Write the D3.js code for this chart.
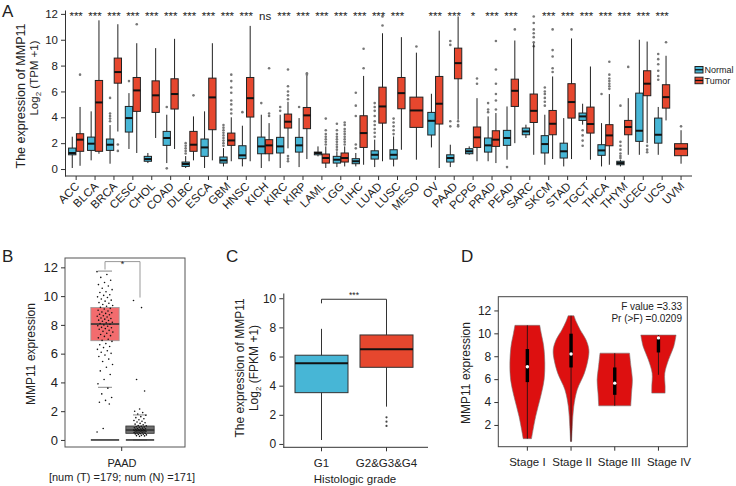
<!DOCTYPE html>
<html><head><meta charset="utf-8">
<script src="https://cdn.jsdelivr.net/npm/d3@7"></script>
<style>
body{margin:0;background:#fff}
svg{display:block}
text{font-family:"Liberation Sans",Arial,Helvetica,sans-serif;fill:#222}
</style>
</head><body>
<svg id="c" width="736" height="486"></svg>
<script>
// ---------------- DATA ----------------
// Panel A
const categories = ["ACC","BLCA","BRCA","CESC","CHOL","COAD","DLBC","ESCA","GBM","HNSC","KICH","KIRC","KIRP","LAML","LGG","LIHC","LUAD","LUSC","MESO","OV","PAAD","PCPG","PRAD","PEAD","SARC","SKCM","STAD","TGCT","THCA","THYM","UCEC","UCS","UVM"];
// [lower whisker, Q1, median, Q3, upper whisker]
const normalBox = [
 [0.08,1.1,1.24,1.62,2.5],[0.67,1.44,1.96,2.47,4.46],[0.41,1.44,1.88,2.32,3.4],[1.55,2.86,3.94,4.84,5.87],
 [0.46,0.6,0.77,0.98,1.24],[0.46,1.83,2.4,2.91,4.2],[0.08,0.2,0.39,0.54,1.0],[0.08,0.98,1.67,2.32,4.46],
 [0.2,0.46,0.67,0.93,1.62],[0.2,0.8,1.06,1.8,3.35],[0.08,1.18,1.75,2.47,4.2],[0.08,1.24,1.75,2.45,4.2],
 [0.15,1.31,1.83,2.45,3.94],[0.98,1.1,1.24,1.31,1.75],[0.15,0.46,0.72,0.98,1.37],[0.2,0.41,0.6,0.8,1.24],
 [0.15,0.77,1.1,1.41,2.27],[0.2,0.77,1.1,1.49,2.52],null,[1.67,2.63,3.73,4.38,5.82],
 [0.15,0.54,0.85,1.1,1.88],[1.1,1.18,1.37,1.57,1.75],[0.6,1.31,1.83,2.4,4.07],[0.72,1.83,2.4,2.99,4.84],
 [2.4,2.65,2.91,3.17,3.43],[0.33,1.24,1.93,2.58,4.2],[0.2,0.85,1.37,2.0,3.94],[3.43,3.76,4.07,4.33,5.05],
 [0.2,1.06,1.44,1.88,3.55],[0.2,0.33,0.46,0.6,0.72],[1.1,2.14,2.96,5.87,10.0],[1.1,2.0,2.65,3.94,4.8],null
];
const tumorBox = [
 [0.25,1.37,2.27,2.73,4.8],[1.18,1.37,5.15,6.85,11.5],[2.9,6.64,7.5,8.58,11.2],[1.24,4.46,6.08,7.08,9.73],
 [2.4,4.38,5.7,6.82,9.35],[1.55,4.64,5.8,6.98,10.07],[0.67,1.37,1.88,2.91,4.07],[0.67,3.04,5.54,7.03,9.73],
 [0.6,1.83,2.21,2.78,4.0],[0.6,4.02,5.48,7.08,11.07],[0.6,1.18,1.83,2.27,3.55],[1.6,3.17,3.66,4.25,5.2],
 [0.77,3.12,4.15,4.76,7.2],[0.08,0.46,0.85,1.16,1.75],[0.2,0.54,0.85,1.24,1.75],[0.33,1.67,2.78,4.12,7.2],
 [0.6,3.55,4.84,6.33,10.5],[1.49,4.66,5.87,7.08,10.2],[0.72,3.22,4.53,5.56,9.0],[0.08,3.48,5.05,7.16,10.7],
 [3.81,6.98,8.19,9.35,11.8],[0.6,1.67,2.45,3.25,5.48],[0.46,1.75,2.27,2.96,4.33],[2.0,4.84,6.05,6.95,9.94],
 [1.1,3.6,4.5,5.8,9.73],[0.77,2.65,3.5,4.53,7.16],[0.77,3.94,5.18,6.6,10.1],[0.72,2.78,3.48,4.79,7.93],
 [0.33,1.8,2.6,3.43,5.8],[1.1,2.65,3.25,3.76,5.48],[2.0,5.67,6.6,7.6,9.86],[3.76,4.71,5.56,6.52,8.76],[0.41,1.03,1.57,1.96,3.0]
];
const normalOut = [
 [],[],[5.5,4.3,4.1,3.9,3.7],[6.8],[],[4.8,0.05],[1.2,1.4,1.6,1.8,2.0],[],
 [1.8,2.0,2.2,2.4,2.6,2.8,3.0,3.2,3.4],[4.4],[5.1],[4.5,4.8],[4.8],[],
 [1.5,1.7,1.9,2.1,2.3,2.5,2.7,3.0,3.5],[5.9,4.9,4.1,1.6,1.9],[2.5,2.8,3.1,3.4,3.7,4.1,4.5,4.8,5.1],
 [2.7,3.0,3.3,3.6,3.9],[],[],[9.9,9.6,3.7,3.3],[],[5.1,4.6,4.4],[0.15],[],
 [6.3,6.0,5.8,5.5,5.2,4.9],[],[3.0,2.6,2.2,1.8],[5.8],[4.9,2.1,1.8,1.5,1.2,1.0,0.85],[],
 [8.9,8.5,8.1,7.6,7.2,6.9],[]
];
const tumorOut = [
 [7.3],[],[1.9,1.4],[11.2],[],[],[5.7],[],[4.3,4.6,5.0,5.3,5.9,6.3,6.8,7.3],[],[4.1,4.3,7.8],
 [7.7,6.4,6.0,5.7,5.4,1.0,0.8,0.6],[7.4,7.3],[1.9,2.1,2.3,2.5,2.7,3.0,3.9],[1.9,2.1,2.3,2.5,2.7,2.9,3.1,3.4,3.6],
 [9.3,7.8],[11.8,11.1],[],[9.48],[],[3.7,3.4,3.3],[7.0,6.6],[9.9,7.7,6.6,5.8,5.3,4.6],[10.8],
 [11.8,11.3,10.8,10.5,10.2,9.8,9.5],[10.8,9.2,8.7,7.8,7.5],[10.8],[],[8.3,7.3,7.0,6.8,6.6,6.4,6.2],[7.9],
 [1.8,1.5,1.3],[9.8],[3.3]
];
const sigLabels = ["***","***","***","***","***","***","***","***","***","***","ns","***","***","***","***","***","***","***","","***","***","*","***","***","","***","***","***","***","***","***","***",""];
const yTicksA = [0,2,4,6,8,10,12];
const legendA = ["Normal","Tumor"];

// Panel B (GEPIA PAAD)
const bGroups = ["Tumor","Normal"];
const bBox = [[3.66,6.9,8.06,9.21,11.74],[0,0.46,0.69,0.97,1.74]];
const bBaseline = [0,0];
const bTumorPts = [11.7,11.5,11.3,11.1,10.95,10.8,10.7,10.55,10.45,10.3,10.25,10.1,10.05,9.95,9.9,9.8,9.72,9.65,9.55,9.5,9.42,9.35,9.3,9.22,9.15,9.1,9.02,8.97,8.9,8.84,8.8,8.74,8.7,8.63,8.6,8.55,8.48,8.44,8.4,8.33,8.3,8.25,8.18,8.14,8.1,8.04,8.0,7.94,7.9,7.83,7.8,7.74,7.7,7.62,7.55,7.5,7.42,7.33,7.25,7.2,7.1,7.0,6.92,6.85,6.7,6.62,6.5,6.42,6.3,6.2,6.1,6.02,5.9,5.8,5.62,5.45,5.25,5.05,4.8,4.55,4.2,3.9,3.6,3.2,2.95,2.75,2.62,2.5,0.8,0.55];
const bNormalPts = [9.7,9.2,4.2,3.4,2.15,2.0,1.9,1.8,1.72,1.62,1.55,1.47,1.4,1.35,1.3,1.25,1.2,1.15,1.1,1.05,1.0,0.98,0.95,0.92,0.9,0.88,0.85,0.82,0.8,0.78,0.76,0.74,0.72,0.7,0.69,0.68,0.67,0.66,0.65,0.64,0.63,0.62,0.6,0.58,0.56,0.55,0.54,0.52,0.5,0.48,0.46,0.44,0.42,0.4,0.38,0.35,0.32,0.3,0.28,0.25];
const yTicksB = [0,2,4,6,8,10,12];

// Panel C
const cGroups = ["G1","G2&G3&G4"];
const cBox = [[0.27,3.52,5.54,6.09,7.9],[2.56,5.26,6.5,7.48,9.7]];
const cOut = [[],[1.83,1.53,1.24]];
const yTicksC = [0,2,4,6,8,10];

// Panel D
const dStages = ["Stage I","Stage II","Stage III","Stage IV"];
const dBox = [[0.8,5.74,7.08,8.63,10.7],[0.55,7.02,8.19,9.97,11.54],[3.67,4.63,5.65,7.02,8.27],[6.38,8.33,9.6,9.65,9.85]];
// [value, relative density]
const dDensity = [
 [[0.8,0.23],[2.73,0.46],[4.48,0.74],[5.94,0.93],[7.4,0.97],[8.85,0.91],[10.0,0.77],[10.7,0.69]],
 [[0.55,0.03],[1.86,0.07],[3.6,0.15],[5.07,0.34],[6.52,0.74],[7.69,0.94],[8.57,0.99],[9.44,0.83],[10.3,0.51],[11.04,0.28],[11.54,0.16]],
 [[3.67,0.89],[4.78,0.93],[5.94,0.98],[7.1,0.9],[8.27,0.82]],
 [[4.78,0.37],[5.35,0.37],[6.52,0.35],[7.69,0.56],[8.85,0.85],[9.85,0.98]]
];
const yTicksD = [2,4,6,8,10,12];
const dStats = ["F value =3.33","Pr (>F) =0.0209"];

// ---------------- DRAW ----------------
const svg = d3.select("#c");
const BLUE = "#47b6d6", RED = "#e6472e", INK = "#222";

function boxA(g, cx, w, s, fill){
  g.append("line").attr("x1",cx).attr("x2",cx).attr("y1",yA(s[0])).attr("y2",yA(s[4]))
    .attr("stroke",INK).attr("stroke-width",1);
  g.append("rect").attr("x",cx-w/2).attr("width",w).attr("y",yA(s[3])).attr("height",Math.max(1,yA(s[1])-yA(s[3])))
    .attr("fill",fill).attr("stroke",INK).attr("stroke-width",1);
  g.append("line").attr("x1",cx-w/2).attr("x2",cx+w/2).attr("y1",yA(s[2])).attr("y2",yA(s[2]))
    .attr("stroke","#111").attr("stroke-width",2);
}

// ===== Panel A =====
const xA = d3.scaleBand().domain(categories).range([66.7, 690.5]);
const yA = d3.scaleLinear().domain([-0.54, 12.3]).range([176, 10]);
const gA = svg.append("g");
gA.append("text").attr("x",2).attr("y",17).attr("font-size",17).text("A");
const axL = gA.append("g").attr("transform","translate(65,0)")
  .call(d3.axisLeft(yA).tickValues(yTicksA).tickSize(4).tickSizeOuter(0).tickPadding(3));
axL.select(".domain").attr("stroke","#333");
axL.selectAll(".tick line").attr("stroke","#333");
axL.selectAll("text").attr("font-size",11.5).attr("font-family",null).attr("fill","#222");
const axB = gA.append("g").attr("transform","translate(0,176)")
  .call(d3.axisBottom(xA).tickSize(4).tickSizeOuter(0).tickFormat(""));
axB.select(".domain").remove();
axB.selectAll(".tick line").attr("stroke","#333");
gA.append("line").attr("x1",65).attr("x2",692).attr("y1",176).attr("y2",176).attr("stroke","#333");
gA.selectAll(".xlab").data(categories).enter().append("text")
  .attr("transform",d=>`translate(${xA(d)+xA.bandwidth()/2+4},${187}) rotate(-45)`)
  .attr("text-anchor","end").attr("font-size",11.5).text(d=>d);
gA.append("text").attr("transform","translate(25,96) rotate(-90)").attr("text-anchor","middle")
  .attr("font-size",12.5).text("The expression of MMP11");
const lt = gA.append("text").attr("transform","translate(38,78) rotate(-90)").attr("text-anchor","middle").attr("font-size",11.5);
lt.append("tspan").text("Log");
lt.append("tspan").attr("font-size",8).attr("dy",3).text("2");
lt.append("tspan").attr("dy",-3).text(" (TPM +1)");
const bw = 7.3, dodge = 3.9;
categories.forEach((c,i)=>{
  const cx = xA(c)+xA.bandwidth()/2;
  const nb = normalBox[i], tb = tumorBox[i];
  if(nb){
    normalOut[i].forEach(v=>gA.append("circle").attr("cx",cx-dodge).attr("cy",yA(v)).attr("r",1.3).attr("fill","#777"));
    boxA(gA, cx-dodge, bw, nb, BLUE);
    tumorOut[i].forEach(v=>gA.append("circle").attr("cx",cx+dodge).attr("cy",yA(v)).attr("r",1.3).attr("fill","#777"));
    boxA(gA, cx+dodge, bw, tb, RED);
  } else {
    tumorOut[i].forEach(v=>gA.append("circle").attr("cx",cx).attr("cy",yA(v)).attr("r",1.3).attr("fill","#777"));
    boxA(gA, cx, 13, tb, RED);
  }
  if(sigLabels[i]) gA.append("text").attr("x",cx).attr("y",19.5).attr("text-anchor","middle")
     .attr("font-size",11.5).attr("fill","#444").text(sigLabels[i]);
});
legendA.forEach((t,i)=>{
  const y0 = 66.5 + i*10.7;
  gA.append("rect").attr("x",695).attr("y",y0).attr("width",8).attr("height",6.5)
    .attr("fill",i?RED:BLUE).attr("stroke",INK).attr("stroke-width",1);
  gA.append("line").attr("x1",695).attr("x2",703).attr("y1",y0+3.25).attr("y2",y0+3.25).attr("stroke","#111").attr("stroke-width",1.3);
  gA.append("text").attr("x",704.5).attr("y",y0+6.5).attr("font-size",9).text(t);
});

// ===== Panel B =====
const gB = svg.append("g");
gB.append("text").attr("x",2).attr("y",262).attr("font-size",17).text("B");
const xB = d3.scaleBand().domain(bGroups).range([87.5,157.5]);
const yB = d3.scaleLinear().domain([-0.49,12.65]).range([447,258]);
gB.append("rect").attr("x",65).attr("y",258).attr("width",120).attr("height",189).attr("fill","none").attr("stroke","#555");
const bAx = gB.append("g").attr("transform","translate(65,0)")
  .call(d3.axisLeft(yB).tickValues(yTicksB).tickSize(4).tickSizeOuter(0).tickPadding(3));
bAx.select(".domain").remove();
bAx.selectAll(".tick line").attr("stroke","#333");
bAx.selectAll("text").attr("font-size",13).attr("font-family",null).attr("fill","#222");
gB.append("line").attr("x1",121.7).attr("x2",121.7).attr("y1",447).attr("y2",451).attr("stroke","#333");
gB.append("text").attr("x",122).attr("y",467).attr("text-anchor","middle").attr("font-size",11).text("PAAD");
gB.append("text").attr("x",122).attr("y",481).attr("text-anchor","middle").attr("font-size",11).text("[num (T) =179; num (N) =171]");
gB.append("text").attr("transform","translate(35,354) rotate(-90)").attr("text-anchor","middle").attr("font-size",12).text("MMP11 expression");
const bFill = ["#f26466","#666666"], bStroke = ["#999","#333"];
bGroups.forEach((gname,i)=>{
  const cx = xB(gname)+xB.bandwidth()/2, w = 28.3, s = bBox[i];
  gB.append("rect").attr("x",cx-w/2).attr("width",w).attr("y",yB(s[3])).attr("height",yB(s[1])-yB(s[3]))
    .attr("fill",bFill[i]).attr("fill-opacity",0.95).attr("stroke",bStroke[i]).attr("stroke-width",0.8);
  gB.append("line").attr("x1",cx-w/2).attr("x2",cx+w/2).attr("y1",yB(s[2])).attr("y2",yB(s[2])).attr("stroke","#333").attr("stroke-width",1.6);
  [s[0],s[4]].forEach(v=>gB.append("line").attr("x1",cx-7).attr("x2",cx+7).attr("y1",yB(v)).attr("y2",yB(v)).attr("stroke","#888").attr("stroke-width",1));
  gB.append("line").attr("x1",cx-w/2).attr("x2",cx+w/2).attr("y1",yB(bBaseline[i])).attr("y2",yB(bBaseline[i])).attr("stroke","#333").attr("stroke-width",1.6);
  const pts = i===0 ? bTumorPts : bNormalPts;
  const spread = i===0 ? 16 : 13;
  pts.forEach((v,k)=>{
    const off = (((k*0.6180339)%1)-0.5)*spread;
    gB.append("circle").attr("cx",cx+off).attr("cy",yB(v)).attr("r",0.8).attr("fill","#111");
  });
});
{
  const c0 = xB("Tumor")+xB.bandwidth()/2, c1 = xB("Normal")+xB.bandwidth()/2;
  gB.append("path").attr("d",`M${c0},${yB(11.85)}V${yB(12.4)}H${c1}V${yB(9.9)}`).attr("fill","none").attr("stroke","#999").attr("stroke-width",1);
  gB.append("text").attr("x",(c0+c1)/2).attr("y",yB(12.4)+5).attr("text-anchor","middle").attr("font-size",9).attr("fill","#f07070").text("*");
}

// ===== Panel C =====
const gC = svg.append("g");
gC.append("text").attr("x",226).attr("y",262).attr("font-size",17).text("C");
const xC = d3.scaleBand().domain(cGroups).range([289,419]);
const yC = d3.scaleLinear().domain([-0.23,10.36]).range([447.3,293]);
const cAx = gC.append("g").attr("transform","translate(283.3,0)")
  .call(d3.axisLeft(yC).tickValues(yTicksC).tickSize(4).tickSizeOuter(0).tickPadding(3));
cAx.select(".domain").attr("stroke","#333");
cAx.selectAll(".tick line").attr("stroke","#333");
cAx.selectAll("text").attr("font-size",12).attr("font-family",null).attr("fill","#222");
const cAxB = gC.append("g").attr("transform","translate(0,447.3)")
  .call(d3.axisBottom(xC).tickSize(4).tickSizeOuter(0).tickPadding(8));
cAxB.select(".domain").remove();
cAxB.selectAll(".tick line").attr("stroke","#333");
cAxB.selectAll("text").attr("font-size",11.5).attr("font-family",null).attr("fill","#222");
gC.append("line").attr("x1",283.3).attr("x2",428).attr("y1",447.3).attr("y2",447.3).attr("stroke","#333");
gC.append("text").attr("x",355).attr("y",483).attr("text-anchor","middle").attr("font-size",11.5).text("Histologic grade");
gC.append("text").attr("transform","translate(244,368) rotate(-90)").attr("text-anchor","middle").attr("font-size",12).text("The expression of MMP11");
const lc = gC.append("text").attr("transform","translate(258,368) rotate(-90)").attr("text-anchor","middle").attr("font-size",12);
lc.append("tspan").text("Log");
lc.append("tspan").attr("font-size",8).attr("dy",3).text("2");
lc.append("tspan").attr("dy",-3).text(" (FPKM +1)");
const cFill = [BLUE, RED];
cGroups.forEach((gname,i)=>{
  const cx = xC(gname)+xC.bandwidth()/2, w = 53, s = cBox[i];
  gC.append("line").attr("x1",cx).attr("x2",cx).attr("y1",yC(s[0])).attr("y2",yC(s[4])).attr("stroke","#333").attr("stroke-width",1);
  gC.append("rect").attr("x",cx-w/2).attr("width",w).attr("y",yC(s[3])).attr("height",yC(s[1])-yC(s[3]))
    .attr("fill",cFill[i]).attr("stroke","#333").attr("stroke-width",1);
  gC.append("line").attr("x1",cx-w/2).attr("x2",cx+w/2).attr("y1",yC(s[2])).attr("y2",yC(s[2])).attr("stroke","#111").attr("stroke-width",2);
  cOut[i].forEach(v=>gC.append("circle").attr("cx",cx).attr("cy",yC(v)).attr("r",1.1).attr("fill","#444"));
});
{
  const c0 = xC("G1")+xC.bandwidth()/2, c1 = xC("G2&G3&G4")+xC.bandwidth()/2;
  gC.append("path").attr("d",`M${c0},${yC(9.65)}V${yC(9.93)}H${c1}V${yC(9.65)}`).attr("fill","none").attr("stroke","#333").attr("stroke-width",1);
  gC.append("text").attr("x",(c0+c1)/2).attr("y",yC(9.93)-1).attr("text-anchor","middle").attr("font-size",8.5).text("***");
}

// ===== Panel D =====
const gD = svg.append("g");
gD.append("text").attr("x",461).attr("y",262).attr("font-size",17).text("D");
const xD = d3.scaleBand().domain(dStages).range([505.5,680.3]);
const yD = d3.scaleLinear().domain([0.1,13.2]).range([446.7,296.7]);
const wD = d3.scaleLinear().domain([0,1]).range([0,18]);
gD.append("rect").attr("x",498.3).attr("y",296.7).attr("width",189).attr("height",150).attr("fill","none").attr("stroke","#444");
const dAx = gD.append("g").attr("transform","translate(498.3,0)")
  .call(d3.axisLeft(yD).tickValues(yTicksD).tickSize(4).tickSizeOuter(0).tickPadding(3));
dAx.select(".domain").remove();
dAx.selectAll(".tick line").attr("stroke","#333");
dAx.selectAll("text").attr("font-size",12).attr("font-family",null).attr("fill","#222");
const dAxB = gD.append("g").attr("transform","translate(0,446.7)")
  .call(d3.axisBottom(xD).tickSize(4).tickSizeOuter(0).tickPadding(7));
dAxB.select(".domain").remove();
dAxB.selectAll(".tick line").attr("stroke","#333");
const dLabelShift = [0, 1, 4.5, 10.5];
dAxB.selectAll("text").attr("font-size",11.5).attr("font-family",null).attr("fill","#222")
  .attr("dx",(d,i)=>dLabelShift[i]);
gD.append("text").attr("transform","translate(470,373) rotate(-90)").attr("text-anchor","middle").attr("font-size",12).text("MMP11 expression");
dStages.forEach((st,i)=>{
  const cx = xD(st)+xD.bandwidth()/2;
  const area = d3.area().curve(d3.curveCatmullRom)
    .y(d=>yD(d[0])).x0(d=>cx-wD(d[1])).x1(d=>cx+wD(d[1]));
  gD.append("path").attr("d",area(dDensity[i])).attr("fill","#dd1010").attr("stroke","#777").attr("stroke-width",0.6);
  const s = dBox[i];
  gD.append("line").attr("x1",cx).attr("x2",cx).attr("y1",yD(s[0])).attr("y2",yD(s[4])).attr("stroke","#111").attr("stroke-width",0.8);
  gD.append("rect").attr("x",cx-1.7).attr("width",3.4).attr("y",yD(s[3])).attr("height",yD(s[1])-yD(s[3])).attr("fill","#000");
  gD.append("circle").attr("cx",cx).attr("cy",yD(s[2])).attr("r",1.7).attr("fill","#fff");
});
dStats.forEach((t,i)=>gD.append("text").attr("x",682).attr("y",310+i*11.7).attr("text-anchor","end").attr("font-size",10).text(t));
</script>
</body></html>
